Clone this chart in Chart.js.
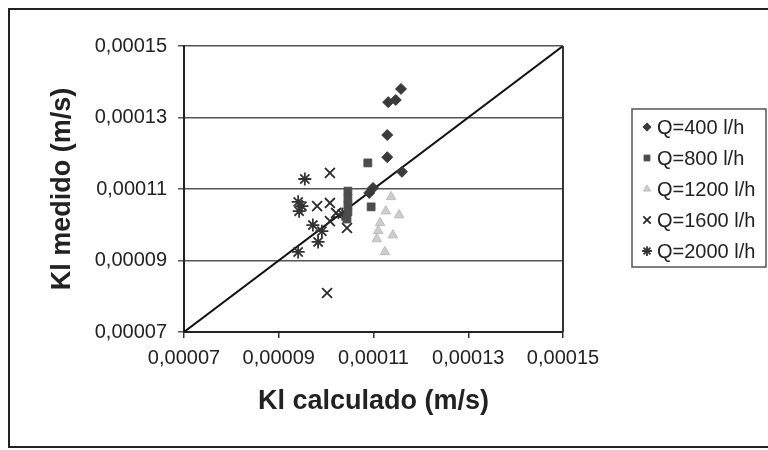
<!DOCTYPE html>
<html>
<head>
<meta charset="utf-8">
<title>Kl medido vs Kl calculado</title>
<script src="https://cdn.jsdelivr.net/npm/chart.js@4.4.0/dist/chart.umd.min.js"></script>
<style>
  body { margin: 0; background: #fff; }
  #wrap { width: 768px; height: 450px; }
</style>
</head>
<body>
<div id="wrap"><canvas id="chart" width="768" height="450"></canvas></div>
<script>
// Tick values shared by both axes
const tickValues = [0.00007, 0.00009, 0.00011, 0.00013, 0.00015];

// Series: Kl calculado (x) / Kl medido (y), m/s
const q400x = [0.0001131, 0.0001147, 0.0001158, 0.0001129, 0.0001129, 0.0001160, 0.0001099, 0.0001091];
const q400y = [0.0001343, 0.0001349, 0.0001380, 0.0001251, 0.0001189, 0.0001148, 0.0001103, 0.0001089];

const q800x = [0.0001088, 0.0001095, 0.0001046, 0.0001046, 0.0001046, 0.0001046, 0.0001044];
const q800y = [0.0001173, 0.0001050, 0.0001094, 0.0001075, 0.0001055, 0.0001036, 0.0001016];

const q1200x = [0.0001137, 0.0001126, 0.0001154, 0.0001114, 0.0001110, 0.0001141, 0.0001107, 0.0001124];
const q1200y = [0.0001078, 0.0001038, 0.0001027, 0.0001005, 0.0000983, 0.0000971, 0.0000960, 0.0000924];

const q1600x = [0.0001008, 0.0000981, 0.0001008, 0.0001021, 0.0001044, 0.0001002, 0.0001008];
const q1600y = [0.0001145, 0.0001052, 0.0001061, 0.0001033, 0.0000991, 0.0000809, 0.0001010];

const q2000x = [0.0000955, 0.0000941, 0.0000949, 0.0000943, 0.0000972, 0.0000991, 0.0000983, 0.0000941, 0.0001034];
const q2000y = [0.0001128, 0.0001064, 0.0001052, 0.0001038, 0.0000999, 0.0000982, 0.0000952, 0.0000924, 0.0001030];

const seriesLabels = ['Q=400 l/h', 'Q=800 l/h', 'Q=1200 l/h', 'Q=1600 l/h', 'Q=2000 l/h'];

const toPoints = (xs, ys) => xs.map((x, i) => ({ x: x, y: ys[i] }));
const fmt = v => v.toFixed(5).replace('.', ',');

const series = [
    { data: toPoints(q400x, q400y), pointStyle: 'rectRot', radius: 5.5, color: '#3a3a3a', fill: '#3a3a3a', bw: 1 },
    { data: toPoints(q800x, q800y), pointStyle: 'rect', radius: 5.5, color: '#4d4d4d', fill: '#4d4d4d', bw: 1 },
    { data: toPoints(q1200x, q1200y), pointStyle: 'triangle', radius: 5.5, color: '#bdbdbd', fill: '#cdcdcd', bw: 1 },
    { data: toPoints(q1600x, q1600y), pointStyle: 'crossRot', radius: 7, color: '#2a2a2a', fill: '#2a2a2a', bw: 1.8 },
    { data: toPoints(q2000x, q2000y), pointStyle: 'star', radius: 6.5, color: '#333333', fill: '#333333', bw: 1.8 }
];

const datasets = series.map((s, i) => ({
    label: seriesLabels[i],
    data: s.data,
    showLine: false,
    pointStyle: s.pointStyle,
    pointRadius: s.radius,
    pointBackgroundColor: s.fill,
    pointBorderColor: s.color,
    pointBorderWidth: s.bw,
    order: 1
}));

// 1:1 reference line
datasets.push({
    label: 'y = x',
    data: [{ x: tickValues[0], y: tickValues[0] }, { x: tickValues[4], y: tickValues[4] }],
    showLine: true,
    borderColor: '#111',
    borderWidth: 2,
    pointRadius: 0,
    order: 2
});

// Frame, outer border and legend box
const decorPlugin = {
    id: 'decor',
    afterDraw(chart) {
        const ctx = chart.ctx;
        const a = chart.chartArea;
        ctx.save();
        // right edge of plot
        ctx.strokeStyle = '#333';
        ctx.lineWidth = 2;
        ctx.beginPath();
        ctx.moveTo(a.right, a.top);
        ctx.lineTo(a.right, a.bottom);
        ctx.stroke();

        // outer border
        ctx.strokeStyle = '#222';
        ctx.lineWidth = 2;
        ctx.beginPath();
        ctx.moveTo(772, 9);
        ctx.lineTo(9, 9);
        ctx.lineTo(9, 447);
        ctx.lineTo(772, 447);
        ctx.stroke();

        // legend
        const lx = 632, ly = 109, lw = 134, lh = 158;
        ctx.strokeStyle = '#555';
        ctx.lineWidth = 1.5;
        ctx.strokeRect(lx, ly, lw, lh);
        ctx.font = '20px "Liberation Sans", Arial, sans-serif';
        ctx.textBaseline = 'middle';
        ctx.fillStyle = '#222';
        series.forEach((s, i) => {
            const y = 127 + i * 31;
            ctx.save();
            ctx.fillStyle = s.fill;
            ctx.strokeStyle = s.color;
            ctx.lineWidth = s.bw;
            Chart.helpers.drawPoint(ctx, {
                pointStyle: s.pointStyle,
                radius: s.radius * 0.75,
                rotation: 0,
                borderWidth: s.bw
            }, 647, y);
            ctx.restore();
            ctx.fillText(seriesLabels[i], 657, y + 1);
        });
        ctx.restore();
    }
};

const tickFont = { family: '"Liberation Sans", Arial, sans-serif', size: 20 };
const titleFont = { family: '"Liberation Sans", Arial, sans-serif', size: 27, weight: 'bold' };

new Chart(document.getElementById('chart'), {
    type: 'scatter',
    data: { datasets: datasets },
    options: {
        responsive: false,
        devicePixelRatio: 1,
        animation: false,
        layout: { padding: { top: 46, right: 205, left: 0, bottom: 0 } },
        plugins: {
            legend: { display: false },
            tooltip: { enabled: false }
        },
        scales: {
            x: {
                type: 'linear',
                min: tickValues[0],
                max: tickValues[4],
                afterBuildTicks: scale => { scale.ticks = tickValues.map(v => ({ value: v })); },
                afterFit: scale => { scale.height = 118; },
                ticks: { color: '#222', font: tickFont, padding: 8, maxRotation: 0, callback: v => fmt(v) },
                grid: { drawOnChartArea: false, drawTicks: true, tickLength: 6, color: '#333', lineWidth: 1.5 },
                border: { color: '#222', width: 2 },
                title: { display: true, text: 'Kl calculado (m/s)', color: '#222', font: titleFont, padding: { top: 0, bottom: 32 } }
            },
            y: {
                type: 'linear',
                min: tickValues[0],
                max: tickValues[4],
                afterBuildTicks: scale => { scale.ticks = tickValues.map(v => ({ value: v })); },
                afterFit: scale => { scale.width = 184; },
                ticks: { color: '#222', font: tickFont, padding: 11, callback: v => fmt(v) },
                grid: { drawTicks: true, tickLength: 6, color: '#555', lineWidth: 1.5 },
                border: { color: '#222', width: 2 },
                title: { display: true, text: 'Kl medido (m/s)', color: '#222', font: titleFont, padding: { top: 46, bottom: 0 } }
            }
        }
    },
    plugins: [decorPlugin]
});
</script>
</body>
</html>
